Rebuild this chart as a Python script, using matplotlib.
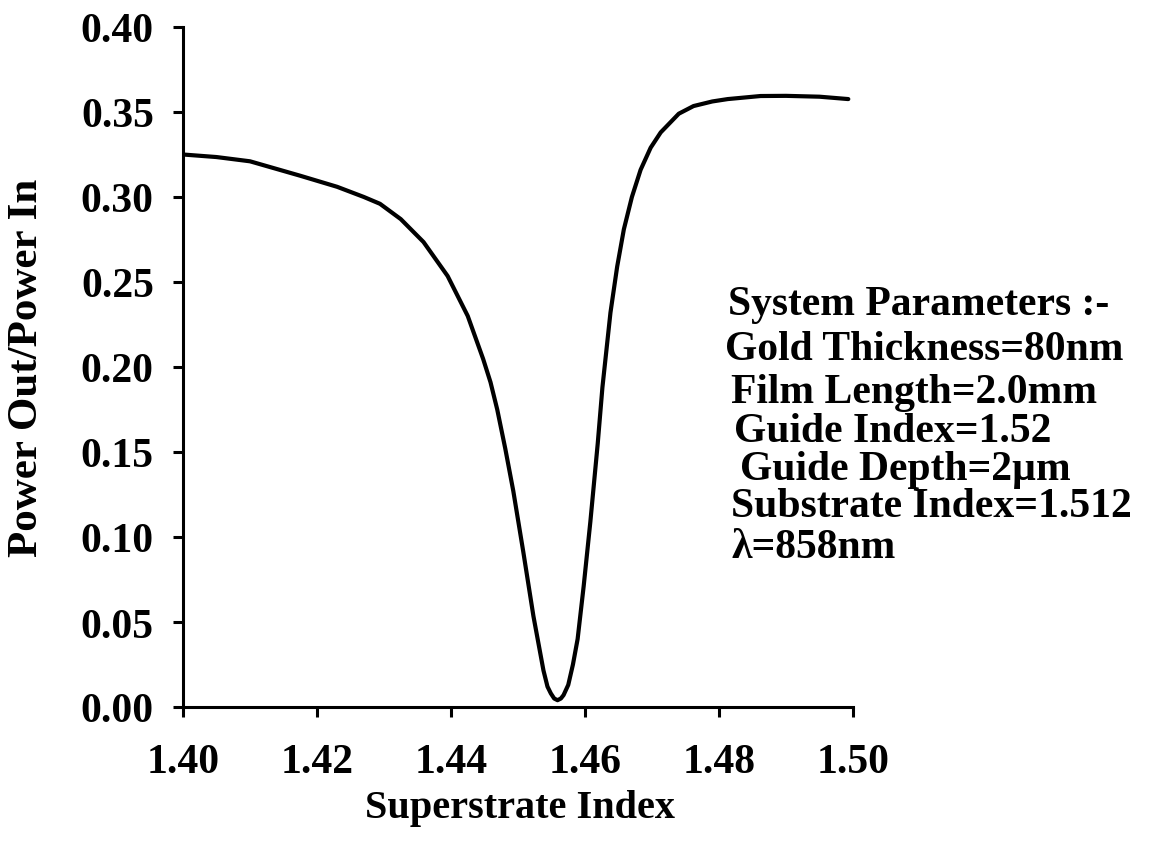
import matplotlib
matplotlib.use("Agg")
import matplotlib.pyplot as plt

plt.rcParams['font.family'] = ['Liberation Serif', 'DejaVu Serif']
plt.rcParams['font.weight'] = 'bold'

superstrate_index = [1.400, 1.405, 1.410, 1.4175, 1.423, 1.427, 1.4294, 1.4325,
                     1.4359, 1.4395, 1.4425, 1.4448, 1.4459, 1.4469, 1.4481, 1.4493,
                     1.4508, 1.4523, 1.4538, 1.4544, 1.4549, 1.4554, 1.4559, 1.4564,
                     1.4568, 1.4575, 1.4582, 1.4589, 1.4598, 1.4608, 1.4619, 1.4626,
                     1.4638, 1.4648, 1.4658, 1.4670, 1.4683, 1.4698, 1.4713, 1.4740,
                     1.4762, 1.4790, 1.4813, 1.4862, 1.4900, 1.4950, 1.4993]
power_ratio = [0.325, 0.3235, 0.321, 0.3125, 0.306, 0.300, 0.296, 0.287,
               0.2735, 0.2535, 0.230, 0.2047, 0.191, 0.175, 0.152, 0.127,
               0.091, 0.0535, 0.0215, 0.012, 0.008, 0.005, 0.004, 0.005,
               0.007, 0.013, 0.025, 0.040, 0.071, 0.109, 0.155, 0.188,
               0.232, 0.259, 0.281, 0.300, 0.316, 0.329, 0.338, 0.349,
               0.3535, 0.3562, 0.3576, 0.3594, 0.3595, 0.359, 0.3576]

x_ticks = [1.40, 1.42, 1.44, 1.46, 1.48, 1.50]
x_tick_labels = ["1.40", "1.42", "1.44", "1.46", "1.48", "1.50"]
y_ticks = [0.00, 0.05, 0.10, 0.15, 0.20, 0.25, 0.30, 0.35, 0.40]
y_tick_labels = ["0.00", "0.05", "0.10", "0.15", "0.20", "0.25", "0.30", "0.35", "0.40"]

param_lines = ["System Parameters :-",
               "Gold Thickness=80nm",
               "Film Length=2.0mm",
               "Guide Index=1.52",
               "Guide Depth=2\u00b5m",
               "Substrate Index=1.512",
               "\u03bb=858nm"]
# pixel placement (left x, baseline y) of each line
param_pos = [(728, 315), (725, 360), (731, 403), (734, 442), (740, 480), (731, 517), (732, 558)]

W, H = 1150, 854
fig = plt.figure(figsize=(W / 100, H / 100), dpi=100)
ax = fig.add_axes([183 / W, 1 - 708 / H, (853 - 183) / W, (708 - 28) / H])

ax.plot(superstrate_index, power_ratio, color='black', lw=3.0,
        solid_capstyle='round', solid_joinstyle='round')

ax.set_xlim(1.40, 1.50)
ax.set_ylim(0.0, 0.40)
ax.set_xticks(x_ticks)
ax.set_xticklabels(x_tick_labels)
ax.set_yticks(y_ticks)
ax.set_yticklabels(y_tick_labels)

for s in ['top', 'right']:
    ax.spines[s].set_visible(False)
for s in ['left', 'bottom']:
    ax.spines[s].set_linewidth(2.2)

ax.tick_params(axis='both', direction='out', length=7, width=2.2, labelsize=30)
ax.tick_params(axis='x', pad=19)
ax.tick_params(axis='y', pad=14)
for lab in ax.get_xticklabels() + ax.get_yticklabels():
    lab.set_fontweight('bold')

ax.set_xlabel("Superstrate Index", fontsize=29, fontweight='bold')
ax.set_ylabel("Power Out/Power In", fontsize=31, fontweight='bold')
ax.xaxis.set_label_coords(0.503, -0.12)
ax.yaxis.set_label_coords(-0.205, 0.5)

for txt, (px, py) in zip(param_lines, param_pos):
    fig.text(px / W, 1 - py / H, txt, fontsize=30, fontweight='bold',
             ha='left', va='baseline')

fig.savefig("out.png", dpi=100)
